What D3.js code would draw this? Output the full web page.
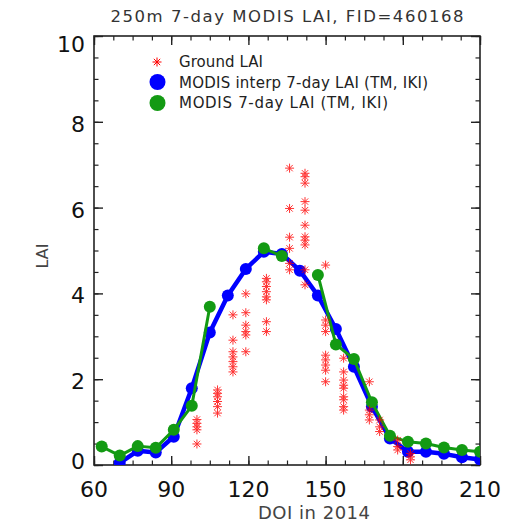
<!DOCTYPE html>
<html><head><meta charset="utf-8">
<script src="https://cdn.jsdelivr.net/npm/d3@7"></script>
<style>body{margin:0;background:#fff}svg{display:block}text{font-family:"DejaVu Sans",sans-serif}</style>
</head><body>
<svg id="c" width="511" height="523"></svg>
<script>
// ---- data ----
const titleText = "250m 7-day MODIS LAI, FID=460168";
const xTitle = "DOI in 2014";
const yTitle = "LAI";
const xTicks = [60, 90, 120, 150, 180, 210];
const yTicks = [0, 2, 4, 6, 8, 10];
const weekDays = [63,70,77,84,91,98,105,112,119,126,133,140,147,154,161,168,175,182,189,196,203,210];
const interpLAI = [null,0.05,0.33,0.29,0.66,1.79,3.09,3.95,4.57,4.97,4.92,4.53,3.95,3.17,2.29,1.36,0.62,0.31,0.31,0.26,0.18,0.13];
const modisLAI  = [0.43,0.22,0.44,0.40,0.82,1.38,3.69,null,null,5.05,4.87,null,4.43,2.81,2.47,1.46,0.68,0.54,0.50,0.41,0.35,0.31];
const groundDay = [100,100,100,100,100,
  108,108,108,108,108,108,
  114,114,114,114,114,114,114,
  119,119,119,119,119,119,
  127,127,127,127,127,127,127,127,
  136,136,136,136,136,136,
  142,142,142,142,142,142,142,142,142,142,142,
  150,150,150,150,150,150,150,150,150,
  157,157,157,157,157,157,157,157,157,
  167,167,167,167,
  171,171,171,
  178,178,178,
  183,183,183];
const groundLAI = [1.06,0.97,0.89,0.82,0.49,
  1.75,1.67,1.59,1.48,1.36,1.21,
  3.5,2.91,2.64,2.52,2.41,2.29,2.17,
  3.99,3.55,3.26,3.11,3.03,2.64,
  4.35,4.27,4.16,4.04,3.92,3.85,3.34,3.11,
  6.92,5.98,5.31,5.05,4.7,4.55,
  6.8,6.72,6.57,6.14,5.94,5.59,5.32,5.24,5.13,4.55,4.2,
  4.66,3.38,3.26,3.11,2.56,2.45,2.33,2.21,1.94,
  2.49,2.17,1.98,1.86,1.79,1.59,1.52,1.36,1.28,
  1.94,1.28,1.17,1.05,
  1.05,0.89,0.78,
  0.58,0.43,0.35,
  0.27,0.19,0.12];
const legendLabels = ["Ground LAI", "MODIS interp 7-day LAI (TM, IKI)", "MODIS 7-day LAI (TM, IKI)"];
const legendWidths = [84, 249, 209];

// ---- layout ----
const L = 94, R = 480, T = 36, B = 465;
const RED = "#ff0000", BLUE = "#0000ff", GREEN = "#139a13", AX = "#222";
const svg = d3.select("#c");
const x = d3.scaleLinear().domain([60, 210]).range([L, R]);
const y = d3.scaleLinear().domain([0, 10]).range([B, T]);

svg.append("defs").append("clipPath").attr("id","clip")
  .append("rect").attr("x",L).attr("y",T).attr("width",R-L).attr("height",B-T);

function ticksAxis(axisGen, tr, major, minor) {
  const g = svg.append("g").attr("transform", tr);
  g.call(axisGen.tickValues(minor).tickSize(-4.5).tickFormat(""));
  g.selectAll(".domain").remove();
  g.selectAll("line").attr("stroke", AX).attr("stroke-width", 1.2);
  const g2 = svg.append("g").attr("transform", tr);
  g2.call(axisGen.tickValues(major).tickSize(-9).tickFormat(""));
  g2.selectAll(".domain").remove();
  g2.selectAll("line").attr("stroke", AX).attr("stroke-width", 1.4);
  return g2;
}
const xMinor = d3.range(60, 210.1, 7.5);
const yMinor = d3.range(0, 10.01, 0.5);
ticksAxis(d3.axisBottom(x), `translate(0,${B})`, xTicks, xMinor);
ticksAxis(d3.axisTop(x), `translate(0,${T})`, xTicks, xMinor);
ticksAxis(d3.axisLeft(y), `translate(${L},0)`, yTicks, yMinor);
ticksAxis(d3.axisRight(y), `translate(${R},0)`, yTicks, yMinor);

svg.append("rect").attr("x",L).attr("y",T).attr("width",R-L).attr("height",B-T)
  .attr("fill","none").attr("stroke",AX).attr("stroke-width",1.6);

svg.append("g").selectAll("text").data(xTicks).join("text")
  .attr("x", d => x(d)).attr("y", 497).attr("text-anchor","middle")
  .attr("font-size", 22).attr("fill", "#111").text(d => d);
svg.append("g").selectAll("text").data(yTicks).join("text")
  .attr("x", L - 9).attr("y", (d,i) => y(d) + 2 + (i===0 ? -6 : (i===yTicks.length-1 ? 6 : 0)))
  .attr("dy","0.36em").attr("text-anchor","end")
  .attr("font-size", 22).attr("fill", "#111").text(d => d);

svg.append("text").attr("x",(L+R)/2).attr("y",22).attr("text-anchor","middle")
  .attr("font-size",16.5).attr("fill","#333")
  .attr("textLength",353).attr("lengthAdjust","spacing").text(titleText);
svg.append("text").attr("x",314).attr("y",519).attr("text-anchor","middle")
  .attr("font-size",18).attr("fill","#444")
  .attr("textLength",112).attr("lengthAdjust","spacing").text(xTitle);
svg.append("text").attr("transform","translate(48,256) rotate(-90)").attr("text-anchor","middle")
  .attr("font-size",16).attr("fill","#444").text(yTitle);

function star(g, cx, cy, r, w) {
  [0,45,90,135].forEach(a => {
    const rad = a*Math.PI/180, dx = r*Math.cos(rad), dy = r*Math.sin(rad);
    g.append("line").attr("x1",cx-dx).attr("y1",cy-dy).attr("x2",cx+dx).attr("y2",cy+dy)
      .attr("stroke",RED).attr("stroke-width",w);
  });
}

const plot = svg.append("g").attr("clip-path","url(#clip)");

function series(vals, color, lw, r) {
  const pts = weekDays.map((d,i) => ({d, v: vals[i]}));
  const line = d3.line().defined(p => p.v !== null).x(p => x(p.d)).y(p => y(p.v));
  plot.append("path").datum(pts).attr("d", line).attr("fill","none")
    .attr("stroke", color).attr("stroke-width", lw).attr("stroke-linejoin","round");
  plot.append("g").selectAll("circle").data(pts.filter(p => p.v !== null)).join("circle")
    .attr("cx", p => x(p.d)).attr("cy", p => y(p.v)).attr("r", r).attr("fill", color);
}
series(interpLAI, BLUE, 4.5, 6);
series(modisLAI, GREEN, 3, 6);

const gg = plot.append("g").attr("opacity",0.8);
groundDay.forEach((d,i) => star(gg, x(d), y(groundLAI[i]), 4.5, 1));

const lg = svg.append("g");
star(lg, 157, 62, 4.5, 1);
lg.append("circle").attr("cx",157.5).attr("cy",82).attr("r",8).attr("fill",BLUE);
lg.append("circle").attr("cx",157.5).attr("cy",103).attr("r",8).attr("fill",GREEN);
lg.selectAll("text.l").data(legendLabels).join("text").attr("class","l")
  .attr("x",179).attr("y",(d,i) => 67 + i*20.7).attr("font-size",15).attr("fill","#222")
  .attr("textLength",(d,i) => legendWidths[i]).attr("lengthAdjust","spacing").text(d => d);
</script>
</body></html>
